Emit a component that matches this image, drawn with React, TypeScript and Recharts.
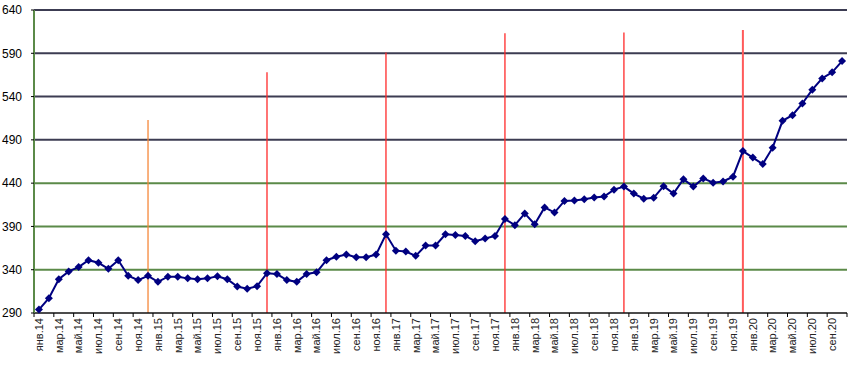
import React from 'react';
import {LineChart, Line, XAxis, YAxis, ReferenceLine} from 'recharts';

const monthNames = ['янв', 'фев', 'мар', 'апр', 'май', 'июн', 'июл', 'авг', 'сен', 'окт', 'ноя', 'дек'];
const years = ['14', '15', '16', '17', '18', '19', '20'];

// monthly values, янв.14 .. окт.20
const values = [
    294, 307, 329, 338, 343, 351, 348, 341, 351, 333, 328, 333,
    326, 332, 332, 330, 329, 330, 332.5, 329, 320.5, 318, 321, 336,
    335, 328, 326, 335, 337, 351, 355, 357.5, 354.5, 354.5, 357.5, 381,
    362, 361, 356, 368, 368, 381, 380, 379, 373, 376, 379, 398.5,
    391.5, 405, 392.5, 412, 406, 419.5, 420, 421.5, 423.5, 424.5, 432.5, 436,
    428, 422, 423, 436.5, 428, 444.5, 436, 445.5, 440.5, 442, 447.5, 477,
    469.5, 462, 481, 512, 518.5, 532, 548, 561, 568, 581,
];

const categories = years.flatMap(y => monthNames.map(m => `${m}.${y}`)).slice(0, values.length);

const yTicks = [290, 340, 390, 440, 490, 540, 590, 640];

// year-end markers: month and height of the line top
const markerMonths = ['дек.14', 'дек.15', 'дек.16', 'дек.17', 'дек.18', 'дек.19'];
const markerTops = [513, 568, 591, 613, 614, 617];
const markerColors = ['#f5873a', '#ff2a2a', '#ff2a2a', '#ff2a2a', '#ff2a2a', '#ff5a5a'];

const data = categories.map((name, i) => ({name, value: values[i]}));

const lastLabel = categories[categories.length % 2 === 0 ? categories.length - 2 : categories.length - 1];

const MonthTick = (props: any) => {
    const {x, y, payload} = props;
    const half = payload.offset || 4.96;
    return (
        <g>
            <line x1={x - half} x2={x - half} y1={y} y2={y + 4} stroke="#000"/>
            {payload.value === lastLabel &&
                <line x1={x + 3 * half} x2={x + 3 * half} y1={y} y2={y + 4} stroke="#000"/>}
            <text x={x} y={y + 5} dy="0.35em" textAnchor="end" transform={`rotate(-90 ${x} ${y + 5})`}
                  fontSize={11} fontFamily="'Liberation Sans', Arial, sans-serif" fill="#222">
                {payload.value}
            </text>
        </g>
    );
};

const Diamond = (props: any) => {
    const {cx, cy, index} = props;
    if (cx == null || cy == null) return <g key={index}/>;
    const r = 4;
    return <path key={index} d={`M${cx},${cy - r}L${cx + r},${cy}L${cx},${cy + r}L${cx - r},${cy}Z`} fill="#000080"/>;
};

const App = (): JSX.Element => {
    return (
        <div style={{position: 'absolute', left: 0, top: 0}}>
            <LineChart width={856} height={367} data={data}
                       margin={{top: 10, right: 9, left: 0, bottom: 0}}>
                <XAxis dataKey="name" type="category" scale="band" interval={1} height={54}
                       axisLine={{stroke: '#111', strokeWidth: 1.5}} tickLine={false}
                       tickSize={0} tickMargin={0} tick={<MonthTick/>}/>
                <YAxis type="number" domain={[290, 640]} ticks={yTicks} width={34} interval={0}
                       axisLine={{stroke: '#5b8a48', strokeWidth: 2}} tickLine={{stroke: '#000'}}
                       tickSize={3} tickMargin={9}
                       tick={{fontSize: 12, fill: '#000', fontFamily: "'Liberation Sans', Arial, sans-serif"}}/>
                {yTicks.filter(v => v > 290).map(v => (
                    <ReferenceLine key={v} y={v} stroke={v >= 490 ? '#3c3c52' : '#5b8a48'} strokeWidth={2}/>
                ))}
                {markerMonths.map((m, i) => (
                    <ReferenceLine key={m} segment={[{x: m, y: 290}, {x: m, y: markerTops[i]}]}
                                   stroke={markerColors[i]} strokeWidth={i === 5 ? 2 : 1.3}/>
                ))}
                <Line dataKey="value" stroke="#000080" strokeWidth={2} dot={<Diamond/>}
                      activeDot={false} isAnimationActive={false}/>
            </LineChart>
        </div>
    );
};

export default App;
